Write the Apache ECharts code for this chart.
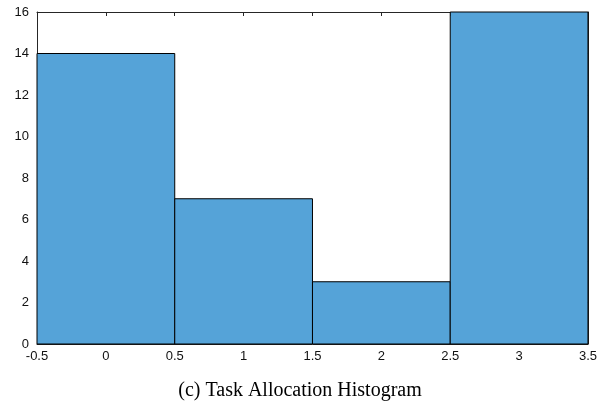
<!DOCTYPE html>
<html>
<head>
<meta charset="utf-8">
<script src="https://cdn.jsdelivr.net/npm/echarts@6/dist/echarts.min.js"></script>
<style>
	html, body { margin: 0; padding: 0; background: #fff; }
	#chart { width: 600px; height: 401px; }
</style>
</head>
<body>
<div id="chart"></div>
<script>
// histogram bins (edges) and counts
var binStarts = [-0.5, 0.5, 1.5, 2.5];
var binEnds = [0.5, 1.5, 2.5, 3.5];
var counts = [14, 7, 3, 16];
var caption = '(c) Task Allocation Histogram';

var data = [];
for (var i = 0; i < counts.length; i++) {
	data.push([binStarts[i], binEnds[i], counts[i]]);
}

var chart = echarts.init(document.getElementById('chart'));

var axisBase = {
	type: 'value',
	axisLine: { show: true, onZero: false, lineStyle: { color: '#262626', width: 1 } },
	axisTick: { show: true, inside: true, length: 4, lineStyle: { color: '#262626' } },
	splitLine: { show: false }
};

option = {
	animation: false,
	grid: { left: 37, right: 10, top: 12, bottom: 57, containLabel: false },
	title: {
		text: caption,
		left: 'center',
		top: 376,
		textStyle: { fontFamily: 'Liberation Serif', fontWeight: 'normal', fontSize: 20, color: '#000' }
	},
	xAxis: [
		Object.assign({}, axisBase, {
			min: -0.5, max: 3.5, interval: 0.5,
			axisLabel: { fontFamily: 'Liberation Sans', fontSize: 13, color: '#111', margin: 6 }
		}),
		Object.assign({}, axisBase, {
			position: 'top',
			min: -0.5, max: 3.5, interval: 0.5,
			axisLabel: { show: false }
		})
	],
	yAxis: [
		Object.assign({}, axisBase, {
			min: 0, max: 16, interval: 2,
			axisLabel: { fontFamily: 'Liberation Sans', fontSize: 13, color: '#111', margin: 8 }
		}),
		Object.assign({}, axisBase, {
			position: 'right',
			min: 0, max: 16, interval: 2,
			axisLabel: { show: false }
		})
	],
	series: [
		{
			type: 'custom',
			xAxisIndex: 0,
			yAxisIndex: 0,
			data: data,
			encode: { x: [0, 1], y: 2 },
			renderItem: function (params, api) {
				var p0 = api.coord([api.value(0), api.value(2)]);
				var p1 = api.coord([api.value(1), 0]);
				return {
					type: 'rect',
					shape: { x: p0[0], y: p0[1], width: p1[0] - p0[0], height: p1[1] - p0[1] },
					style: { fill: '#55a3d8', stroke: '#000', lineWidth: 1 }
				};
			}
		}
	]
};

chart.setOption(option);
</script>
</body>
</html>
